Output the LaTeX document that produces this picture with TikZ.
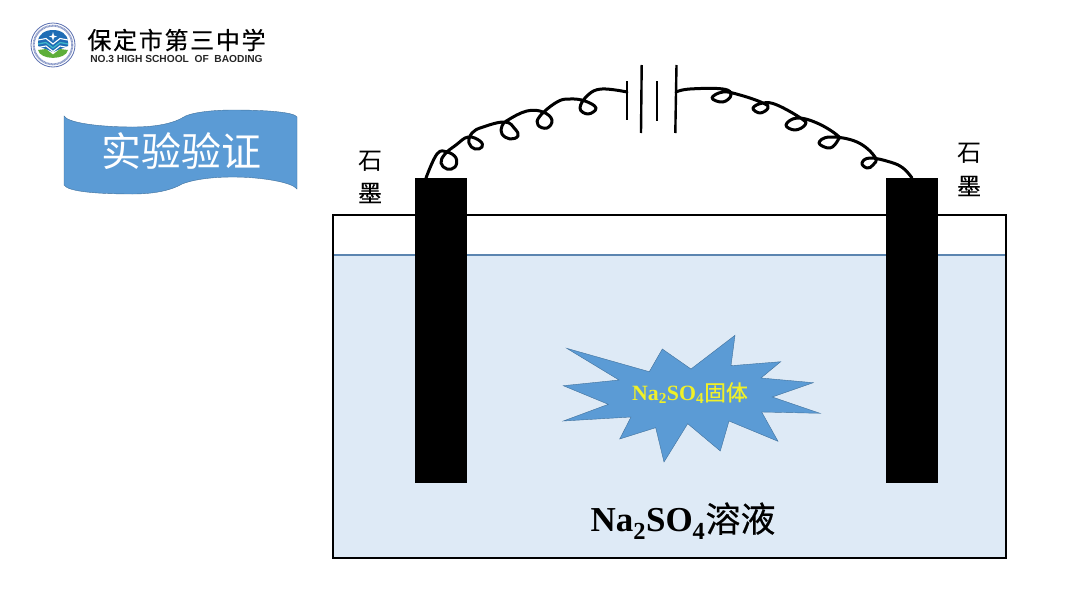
\documentclass[tikz,border=0pt]{standalone}
\usepackage{fontspec}
\setmainfont{Liberation Serif}
\newfontfamily\cjk{Noto Sans CJK SC}
\newfontfamily\cjkheavy[FakeBold=0.35]{Noto Sans CJK SC}
\newfontfamily\lsans{Liberation Sans}
\definecolor{water}{HTML}{DEEAF6}
\definecolor{bluefill}{HTML}{5B9BD5}
\definecolor{blueedge}{HTML}{41719C}
\definecolor{waterline}{HTML}{5B85B0}
\definecolor{logoblue}{HTML}{1F6DB5}
\definecolor{logoring}{HTML}{5A6FB0}
\definecolor{logogreen}{HTML}{5DAE3A}
\definecolor{logoteal}{HTML}{3FB6C8}
\tikzset{
 wire/.style={line width=3pt,line cap=round,line join=round},
 batt/.style={line width=2.4pt},
 electrode/.style={fill=black,draw=none,inner sep=0pt,minimum width=52pt,minimum height=305pt},
 sideword/.style={font=\cjk\fontsize{24}{24}\selectfont,inner sep=0pt},
 sideheavy/.style={font=\cjkheavy\fontsize{24}{24}\selectfont,inner sep=0pt},
}
\begin{document}
\begin{tikzpicture}[x=1pt,y=-1pt]
\useasboundingbox (0,0) rectangle (1080,608);
\fill[white] (0,0) rectangle (1080,608);
% logo
\fill[white] (53,45) circle (22);
\draw[logoring,line width=0.8pt] (53,45) circle (22);
\draw[logoring!70!white,line width=2pt,dash pattern=on 1pt off 0.5pt] (53,45) circle (19.3);
\fill[logoblue] (38,42) .. controls (38,26) and (68,26) .. (68,42) -- (68,46) -- (53,52) -- (38,46) -- cycle;
\fill[white] (53,32) -- (54,35.5) -- (57,36.5) -- (54,37.5) -- (53,41) -- (52,37.5) -- (49,36.5) -- (52,35.5) -- cycle;
\draw[white,line width=1.1pt] (38,40) -- (46,38.5) -- (53,44) -- (60,38.5) -- (68,40);
\draw[logoteal,line width=1.3pt] (38,44) -- (46,42.5) -- (53,48) -- (60,42.5) -- (68,44);
\draw[white,line width=1.1pt] (38,47.5) -- (46,46) -- (53,51.5) -- (60,46) -- (68,47.5);
\fill[logogreen] (38,50) -- (46,49) -- (53,54.5) -- (60,49) -- (68,50) .. controls (66,60.5) and (40,60.5) .. (38,50) -- cycle;
\node[font=\cjkheavy\fontsize{24}{25}\selectfont,inner sep=0pt,anchor=center] (schoolname) at (176.5,40) {保\hspace{1.7pt}定\hspace{1.7pt}市\hspace{1.7pt}第\hspace{1.7pt}三\hspace{1.7pt}中\hspace{1.7pt}学};
\node[font=\lsans\bfseries\fontsize{10.2}{11}\selectfont,text=black!85,inner sep=0pt,anchor=center] (schooleng) at (176.5,58.5) {NO.3 HIGH SCHOOL\ \ OF\ \ BAODING};
% banner
\path[fill=bluefill,draw=blueedge,line width=0.4pt] (64,116) .. controls (68,123) and (100,127) .. (133,127)
 .. controls (160,127) and (175,122) .. (182,118) .. controls (190,112) and (215,110) .. (233,110)
 .. controls (265,110) and (294,112) .. (297,117) -- (297,189)
 .. controls (292,182) and (260,177) .. (233,177) .. controls (210,177) and (192,180) .. (182,184)
 .. controls (172,190) and (155,194) .. (133,194) .. controls (100,194) and (68,192) .. (64,185) -- cycle;
\node[font=\cjk\fontsize{40}{40}\selectfont,text=white,inner sep=0pt] (banner) at (181,151) {实验验证};
% tank
\fill[water] (333,255) rectangle (1006,558);
\draw[waterline,line width=1.5pt] (333,255) -- (1006,255);
\draw[black,line width=2.4pt] (333,215) rectangle (1006,558);
\node[electrode,anchor=north west] (eleft) at (415,178) {};
\node[electrode,anchor=north west] (eright) at (886,178) {};
% labels
\node[sideword] (s1) at (370,161) {石};
\node[sideheavy] (m1) at (370,193) {墨};
\node[sideword] (s2) at (969,153) {石};
\node[sideheavy] (m2) at (969,186) {墨};
% star
\path[fill=bluefill,draw=blueedge,line width=0.4pt] (566.7,348.3) -- (649.3,371.7) -- (662.3,349) -- (691,369) -- (735,335.3) -- (731,365.7) -- (780.7,361.7) -- (761,378) -- (813.3,382.7) -- (772.3,397) -- (820,413.3) -- (761.7,412) -- (778,441.3) -- (729,421) -- (720.3,451) -- (687.7,423.7) -- (664,462) -- (655.7,427.7) -- (619.7,439) -- (631,417) -- (563.3,421) -- (608.3,404.3) -- (563.3,385.7) -- (619,380) -- cycle;
\node[text={rgb,255:red,240;green,240;blue,40},font=\bfseries\fontsize{21.8}{22}\selectfont,inner sep=0pt] (solid) at (690,393) {Na\textsubscript{2}SO\textsubscript{4}{\cjkheavy\mdseries 固体}};
\node[font=\bfseries\fontsize{35}{35}\selectfont,inner sep=0pt] (soln) at (683,521) {Na\textsubscript{2}SO\textsubscript{4}{\cjkheavy\mdseries 溶液}};
% battery
\coordinate (bl) at (627,92);
\coordinate (br) at (676,92);
\draw[batt] (627,81) -- (627,120);
\draw[batt] (641.7,65) -- (641,133);
\draw[batt] (657,81) -- (657,121);
\draw[batt] (676.5,65) -- (675.3,133);
% wires
\draw[wire] plot[smooth,tension=0.7] coordinates {(426,178) (437,154) (447,152) (456,158) (455,167) (447,169) (441,163) (445,154) (456,145) (468,137) (480,141) (482,147) (475,149) (469,143) (472,133) (483,127) (505,122) (515,129) (518,136) (510,139) (502,134) (502,126) (508,120) (527,111) (543,112) (552,120) (547,128) (538,125) (540,116) (557,102) (570,99) (585,101) (596,108) (588,114) (580,108) (588,95) (602,89) (627,92)};
\draw[wire] plot[smooth,tension=0.7] coordinates {(676,92) (690,89) (723,89) (731,95) (723,102) (712,98) (723,92) (740,95) (763,103) (768,108) (760,113) (753,108) (763,103) (777,105) (802,119) (805,125) (795,130) (786,125) (797,118) (817,123) (837,135) (838,140) (830,148) (819,143) (830,137) (857,142) (875,157) (873,165) (867,168) (862,163) (870,158) (890,162) (903,168) (912,178)};
\end{tikzpicture}
\end{document}
